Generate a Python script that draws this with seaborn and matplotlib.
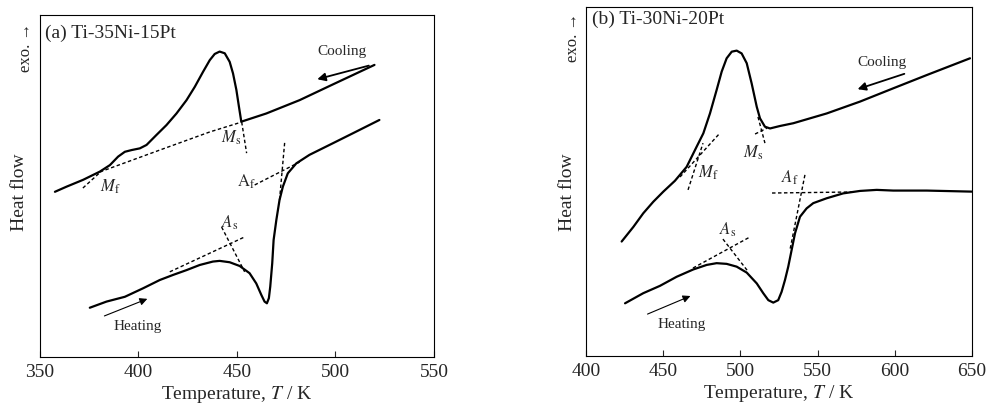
import matplotlib
matplotlib.use("Agg")
import matplotlib.pyplot as plt
import seaborn as sns
import pandas as pd

# ---------------- data (temperature in K, heat flow in arb. units) ----------------
# (a) Ti-35Ni-15Pt
a_cool_T = [357.6, 363.5, 371.9, 380.4, 385.5, 389.7, 393.1, 396.5, 400.7, 404.1, 409.1, 414.2, 419.3,
            424.4, 428.6, 432.8, 436.2, 438.7, 441.2, 443.8, 446.3, 448.0, 449.7, 451.0, 452.2,
            464.9, 481.8, 498.7, 519.8]
a_cool_H = [48.3, 49.8, 51.8, 54.2, 56.1, 58.6, 60.0, 60.5, 61.0, 62.0, 64.9, 67.8, 71.2,
            75.1, 79.0, 83.4, 86.8, 88.6, 89.3, 88.8, 86.3, 82.9, 78.1, 73.2, 68.8,
            71.2, 75.1, 79.7, 85.4]
a_heat_T = [375.3, 383.8, 393.1, 402.4, 410.8, 417.6, 424.4, 431.1, 437.8, 441.2, 446.3, 451.4, 456.4,
            459.8, 462.4, 464.0, 465.2, 466.2, 466.9, 467.9, 468.6, 470.0, 471.6, 473.3, 475.8,
            480.1, 486.8, 498.7, 508.8, 522.3]
a_heat_H = [14.4, 16.2, 17.6, 20.1, 22.5, 24.0, 25.4, 26.9, 27.9, 28.1, 27.7, 26.6, 24.5,
            21.5, 18.1, 16.2, 15.7, 17.2, 20.6, 27.4, 34.2, 40.1, 45.9, 49.8, 53.7,
            56.6, 59.1, 62.5, 65.4, 69.3]
# tangent construction lines (a)
a_base_T = [380.4, 410.8, 436.2, 452.4];  a_base_H = [54.1, 60.5, 65.8, 68.7]
a_mf_T = [371.8, 381.9];  a_mf_H = [49.4, 54.7]
a_ms_T = [452.4, 454.9];  a_ms_H = [68.7, 59.6]
a_af1_T = [459.0, 481.8]; a_af1_H = [50.3, 57.0]
a_af2_T = [474.2, 471.6]; a_af2_H = [62.6, 45.9]
a_as1_T = [415.9, 453.9]; a_as1_H = [24.9, 35.1]
a_as2_T = [442.2, 453.9]; a_as2_H = [38.0, 24.9]

# (b) Ti-30Ni-20Pt
b_cool_T = [423.1, 430.7, 437.1, 443.6, 450.1, 457.6, 465.2, 471.7, 476.0, 480.3, 484.6, 487.9,
            491.1, 494.4, 497.6, 500.8, 504.1, 507.3, 510.6, 512.7, 515.9, 519.2, 525.6, 534.3,
            555.9, 577.5, 599.0, 620.7, 648.7]
b_cool_H = [32.8, 37.0, 40.9, 44.2, 47.1, 50.2, 54.2, 60.0, 63.8, 69.5, 76.2, 81.5,
            85.3, 87.2, 87.5, 86.7, 83.9, 78.1, 71.4, 68.1, 65.7, 65.2, 65.9, 66.7,
            69.5, 72.9, 76.7, 80.5, 85.3]
b_heat_T = [425.3, 437.1, 447.9, 458.7, 469.5, 478.2, 484.6, 491.1, 497.6, 504.1, 510.6, 514.8, 518.1,
            521.3, 524.5, 526.7, 528.9, 531.0, 533.2, 535.4, 538.6, 542.9, 547.2, 555.9, 566.6,
            577.5, 588.3, 599.0, 620.7, 649.8]
b_heat_H = [15.1, 18.0, 20.1, 22.7, 24.8, 26.1, 26.6, 26.4, 25.6, 23.9, 20.8, 18.0, 16.0,
            15.3, 16.0, 18.4, 21.8, 25.6, 30.4, 35.2, 39.9, 42.3, 43.8, 45.2, 46.6,
            47.3, 47.6, 47.4, 47.4, 47.1]
# tangent construction lines (b)
b_mf1_T = [460.9, 486.8]; b_mf1_H = [51.3, 63.9]
b_mf2_T = [466.1, 475.8]; b_mf2_H = [47.6, 61.0]
b_ms1_T = [509.5, 517.2]; b_ms1_H = [63.6, 65.3]
b_ms2_T = [511.4, 515.9]; b_ms2_H = [68.5, 61.0]
b_af1_T = [520.5, 572.9]; b_af1_H = [46.7, 47.0]
b_af2_T = [541.8, 532.1]; b_af2_H = [51.9, 30.4]
b_as1_T = [469.3, 506.2]; b_as1_H = [25.2, 34.1]
b_as2_T = [488.7, 504.3]; b_as2_H = [33.5, 24.6]

a_ticks = [350, 400, 450, 500, 550]
b_ticks = [400, 450, 500, 550, 600, 650]

# ---------------- style ----------------
sns.set_theme(style="white")
plt.rcParams["font.family"] = ["Liberation Serif", "DejaVu Serif"]
plt.rcParams["mathtext.fontset"] = "stix"

fig = plt.figure(figsize=(9.89, 4.07), dpi=100)
ax1 = fig.add_axes([0.0404, 0.1229, 0.3984, 0.8403])
ax2 = fig.add_axes([0.5925, 0.1253, 0.3903, 0.8575])


def curve(ax, T, H, dashed=False):
    df = pd.DataFrame({"T": T, "H": H})
    if dashed:
        sns.lineplot(data=df, x="T", y="H", ax=ax, sort=False, color="black",
                     lw=1.0, linestyle=(0, (2.5, 1.8)), estimator=None)
    else:
        sns.lineplot(data=df, x="T", y="H", ax=ax, sort=False, color="black",
                     lw=1.6, estimator=None)


def style_axes(ax, ticks):
    ax.set_xlim(ticks[0], ticks[-1])
    ax.set_ylim(0, 100)
    ax.set_xticks(ticks)
    ax.set_xticklabels([str(t) for t in ticks], fontsize=14)
    ax.set_yticks([])
    ax.set_xlabel("Temperature, $\\mathit{T}$ / K", fontsize=14, labelpad=2)
    ax.set_ylabel("")
    ax.tick_params(axis="x", direction="in", length=4, width=0.8, pad=5, bottom=True)
    for s in ax.spines.values():
        s.set_visible(True)
        s.set_color("black")
        s.set_linewidth(0.8)


# ---- panel (a)
curve(ax1, a_cool_T, a_cool_H)
curve(ax1, a_heat_T, a_heat_H)
for T, H in [(a_base_T, a_base_H), (a_mf_T, a_mf_H), (a_ms_T, a_ms_H), (a_af1_T, a_af1_H),
             (a_af2_T, a_af2_H), (a_as1_T, a_as1_H), (a_as2_T, a_as2_H)]:
    curve(ax1, T, H, dashed=True)
style_axes(ax1, a_ticks)
ax1.text(0.013, 0.947, "(a) Ti-35Ni-15Pt", transform=ax1.transAxes, fontsize=14, va="center", ha="left")
ax1.text(503.1, 89.2, "Cooling", fontsize=11, ha="center", va="center")
ax1.annotate("", xy=(489.4, 81.0), xytext=(518.3, 85.4),
             arrowprops=dict(arrowstyle="-|>", color="black", lw=1.3, mutation_scale=12))
ax1.text(399.7, 8.8, "Heating", fontsize=11, ha="center", va="center")
ax1.annotate("", xy=(405.8, 17.3), xytext=(381.4, 11.7),
             arrowprops=dict(arrowstyle="-|>", color="black", lw=0.8, mutation_scale=11))
ax1.text(446.8, 64.0, "$M_{\\mathrm{s}}$", fontsize=12, ha="center", va="center")
ax1.text(385.5, 49.7, "$M_{\\mathrm{f}}$", fontsize=12, ha="center", va="center")
ax1.text(454.9, 51.2, "$\\mathrm{A}_{\\mathrm{f}}$", fontsize=12, ha="center", va="center")
ax1.text(446.3, 39.2, "$A_{\\mathrm{s}}$", fontsize=12, ha="center", va="center")

# ---- panel (b)
curve(ax2, b_cool_T, b_cool_H)
curve(ax2, b_heat_T, b_heat_H)
for T, H in [(b_mf1_T, b_mf1_H), (b_mf2_T, b_mf2_H), (b_ms1_T, b_ms1_H), (b_ms2_T, b_ms2_H),
             (b_af1_T, b_af1_H), (b_af2_T, b_af2_H), (b_as1_T, b_as1_H), (b_as2_T, b_as2_H)]:
    curve(ax2, T, H, dashed=True)
style_axes(ax2, b_ticks)
ax2.text(0.016, 0.965, "(b) Ti-30Ni-20Pt", transform=ax2.transAxes, fontsize=14, va="center", ha="left")
ax2.text(591.7, 84.2, "Cooling", fontsize=11, ha="center", va="center")
ax2.annotate("", xy=(574.2, 76.2), xytext=(607.9, 81.1),
             arrowprops=dict(arrowstyle="-|>", color="black", lw=1.3, mutation_scale=12))
ax2.text(462.2, 8.9, "Heating", fontsize=11, ha="center", va="center")
ax2.annotate("", xy=(469.3, 17.5), xytext=(438.2, 11.7),
             arrowprops=dict(arrowstyle="-|>", color="black", lw=0.8, mutation_scale=11))
ax2.text(508.2, 58.2, "$M_{\\mathrm{s}}$", fontsize=12, ha="center", va="center")
ax2.text(479.0, 52.4, "$M_{\\mathrm{f}}$", fontsize=12, ha="center", va="center")
ax2.text(532.1, 51.0, "$A_{\\mathrm{f}}$", fontsize=12, ha="center", va="center")
ax2.text(492.0, 36.1, "$A_{\\mathrm{s}}$", fontsize=12, ha="center", va="center")

# ---- y labels
fig.text(20 / 989, 1 - 192 / 407, "Heat flow", rotation=90, fontsize=14, ha="center", va="center")
fig.text(26 / 989, 1 - 47 / 407, "exo. \u2192", rotation=90, fontsize=12, ha="center", va="center")
fig.text(568 / 989, 1 - 192 / 407, "Heat flow", rotation=90, fontsize=14, ha="center", va="center")
fig.text(573 / 989, 1 - 37 / 407, "exo. \u2192", rotation=90, fontsize=12, ha="center", va="center")

fig.savefig("out.png", dpi=100, facecolor="white")
